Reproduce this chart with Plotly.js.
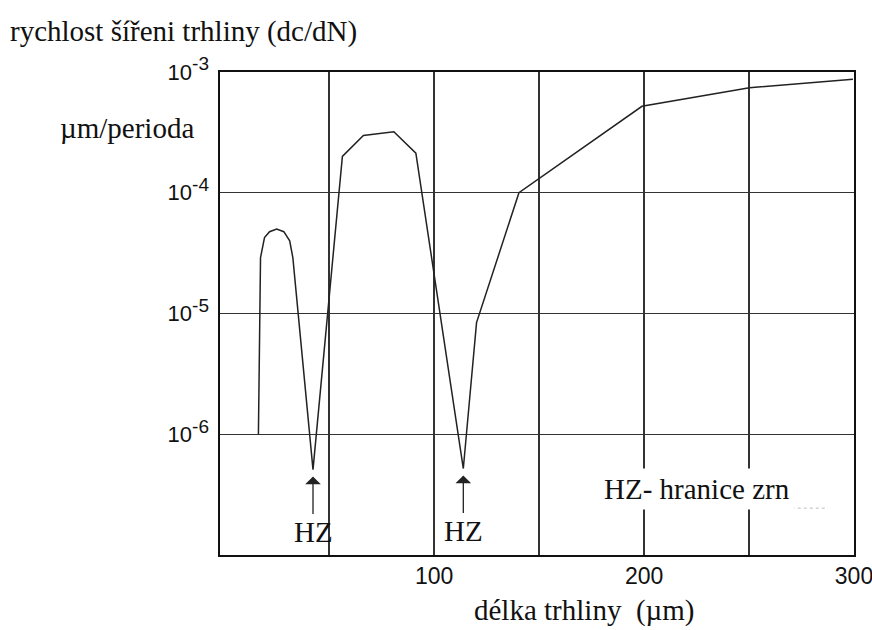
<!DOCTYPE html>
<html>
<head>
<meta charset="utf-8">
<script src="https://cdn.plot.ly/plotly-3.0.1.min.js"></script>
<style>
  html, body { margin: 0; padding: 0; background: #ffffff; }
  #chart { width: 872px; height: 630px; }
</style>
</head>
<body>
<div id="chart"></div>
<script>
// Crack length (µm) and crack growth rate dc/dN (µm per cycle)
const crackLength = [16.3, 17.3, 19.2, 21.6, 25.0, 28.4, 31.2, 32.7, 42.3,
                     56.3, 66.3, 80.8, 91.3, 113.9, 120.2, 140.4, 199.0, 250.2, 299.5];
const growthRate  = [1.0e-6, 2.9e-5, 4.25e-5, 4.76e-5, 5.0e-5, 4.76e-5, 4.0e-5, 2.9e-5, 5.1e-7,
                     2.0e-4, 2.98e-4, 3.2e-4, 2.13e-4, 5.2e-7, 8.4e-6, 1.0e-4, 5.2e-4, 7.4e-4, 8.7e-4];

// Axis ticks
const xTickVals = [50, 100, 150, 200, 250, 300];
const xTickText = ["", "100", "", "200", "", "300"];
const yExponents = [-3, -4, -5, -6];

// Texts
const rateTitle = "rychlost šířeni trhliny (dc/dN)";
const rateUnit = "µm/perioda";
const lengthTitle = "délka trhliny \u00a0(µm)";
const boundaryLabel = "HZ";
const boundaryNote = "HZ- hranice zrn";

const serif = "Liberation Serif, Times New Roman, serif";
const sans = "Liberation Sans, Arial, sans-serif";
const ink = "#111111";

// Grain boundaries sit at the local minima of the growth rate
const boundaryIdx = [];
for (let i = 1; i < growthRate.length - 1; i++) {
  if (growthRate[i] < growthRate[i - 1] && growthRate[i] < growthRate[i + 1]) boundaryIdx.push(i);
}

const yTickVals = yExponents.map(e => Math.pow(10, e));
const yTickText = yExponents.map(e => "10<sup><span style='font-size:19px'>" + e + "</span></sup>");

const trace = {
  x: crackLength,
  y: growthRate,
  type: "scatter",
  mode: "lines",
  line: { color: "#222222", width: 1.5 },
  hoverinfo: "skip"
};

const annotations = [
  {
    xref: "paper", yref: "paper", x: -0.2555, y: 0.884,
    xanchor: "left", yanchor: "middle", showarrow: false,
    text: rateUnit, font: { family: serif, size: 29, color: ink }
  },
  {
    xref: "paper", yref: "paper", x: 0.574, y: -0.114,
    xanchor: "center", yanchor: "middle", showarrow: false,
    text: lengthTitle, font: { family: serif, size: 29, color: ink }
  },
  {
    xref: "paper", yref: "paper", x: 0.598, y: 0.137,
    xanchor: "left", yanchor: "middle", showarrow: false,
    text: boundaryNote, font: { family: serif, size: 29, color: ink },
    bgcolor: "#ffffff", borderpad: 4
  }
];

boundaryIdx.forEach(i => {
  annotations.push({
    xref: "x", yref: "y",
    x: crackLength[i], y: Math.log10(growthRate[i]),
    text: boundaryLabel,
    font: { family: serif, size: 29, color: ink },
    showarrow: true, ax: 0, ay: 62, standoff: 7,
    arrowhead: 1, arrowsize: 2, arrowwidth: 1.3, arrowcolor: "#222222"
  });
});

const layout = {
  width: 872,
  height: 630,
  paper_bgcolor: "#ffffff",
  plot_bgcolor: "#ffffff",
  showlegend: false,
  margin: { l: 220, r: 18, t: 72, b: 75 },
  title: {
    text: rateTitle,
    font: { family: serif, size: 29, color: ink },
    xref: "container", yref: "container",
    x: 10 / 872, xanchor: "left",
    y: 1 - 31 / 630, yanchor: "middle"
  },
  xaxis: {
    range: [-2, 300],
    tickmode: "array",
    tickvals: xTickVals,
    ticktext: xTickText,
    ticks: "",
    ticklabelstandoff: 0,
    ticklabeloverflow: "allow",
    tickfont: { family: sans, size: 23, color: ink },
    showgrid: true,
    gridcolor: "#333333",
    gridwidth: 1.4,
    zeroline: false,
    showline: true,
    linecolor: "#111111",
    linewidth: 1.6,
    mirror: true
  },
  yaxis: {
    type: "log",
    range: [-7, -3],
    tickmode: "array",
    tickvals: yTickVals,
    ticktext: yTickText,
    ticks: "",
    ticklabelstandoff: 5,
    tickfont: { family: sans, size: 22, color: ink },
    showgrid: true,
    gridcolor: "#333333",
    gridwidth: 1.4,
    zeroline: false,
    showline: true,
    linecolor: "#111111",
    linewidth: 1.6,
    mirror: true
  },
  annotations: annotations,
  shapes: [
    // faint dotted frame edges around the note
    {
      type: "line", xref: "paper", yref: "paper",
      x0: 0.604, x1: 0.604, y0: 0.099, y1: 0.163,
      line: { color: "#999999", width: 1, dash: "dot" }
    },
    {
      type: "line", xref: "paper", yref: "paper",
      x0: 0.741, x1: 0.959, y0: 0.097, y1: 0.097,
      line: { color: "#bbbbbb", width: 1, dash: "dot" }
    }
  ]
};

Plotly.newPlot("chart", [trace], layout, { staticPlot: true, displayModeBar: false });
</script>
</body>
</html>
